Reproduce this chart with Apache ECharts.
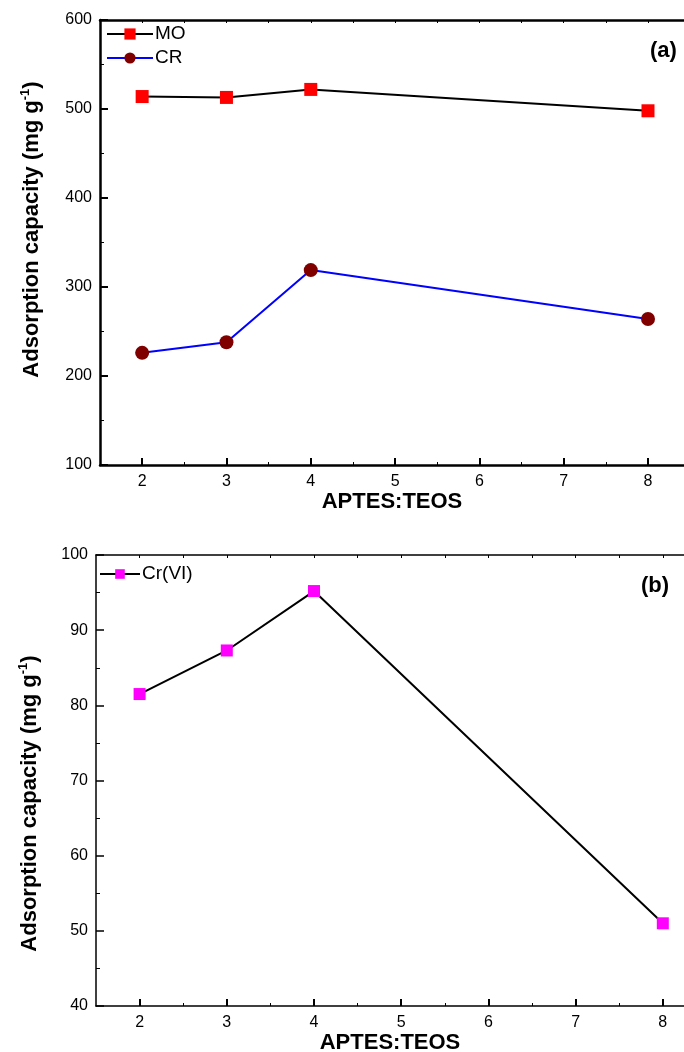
<!DOCTYPE html>
<html>
<head>
<meta charset="utf-8">
<script src="https://cdn.jsdelivr.net/npm/echarts@6/dist/echarts.min.js"></script>
<style>
  html, body { margin: 0; padding: 0; background: #fff; }
  #chart { width: 684px; height: 1052px; }
</style>
</head>
<body>
<div id="chart"></div>
<script>
// APTES:TEOS ratios and measured adsorption capacities (mg g-1)
const ratios = [2, 3, 4, 8];
const moValues = [514, 513, 522, 498];
const crValues = [226, 238, 319, 264];
const cr6Values = [81.5, 87.3, 95.2, 51];

const majorTicks = [2, 3, 4, 5, 6, 7, 8];
const minorTicks = [2.5, 3.5, 4.5, 5.5, 6.5, 7.5];

const FONT = 'Liberation Sans, Arial, sans-serif';
const pair = (xs, ys) => xs.map((x, i) => [x, ys[i]]);

function yName(padding) {
  return {
    name: '{t|Adsorption capacity (mg g}{s|-1}{t|)}',
    nameLocation: 'middle',
    nameRotate: 90,
    nameTextStyle: {
      padding,
      rich: {
        t: { fontFamily: FONT, fontSize: 22, fontWeight: 'bold', color: '#000' },
        s: { fontFamily: FONT, fontSize: 13, fontWeight: 'bold', color: '#000', verticalAlign: 'top', padding: [0, 0, 12, 0] }
      }
    }
  };
}

// bottom axis with labelled major ticks, a second one for the half-step minor ticks,
// and a mirrored top axis that closes the frame
function frameAxes(gridIndex, lw, xMax) {
  const base = {
    type: 'value', gridIndex, min: 1.5, max: xMax, splitLine: { show: false }
  };
  return [
    Object.assign({}, base, {
      position: 'bottom',
      name: 'APTES:TEOS', nameLocation: 'middle', nameGap: 26,
      nameTextStyle: { fontFamily: FONT, fontSize: 22, fontWeight: 'bold', color: '#000' },
      axisLine: { lineStyle: { color: '#000', width: lw } },
      axisTick: { inside: true, length: 7, customValues: majorTicks, lineStyle: { color: '#000', width: 2 } },
      axisLabel: { customValues: majorTicks, color: '#000', fontFamily: FONT, fontSize: 16, margin: 9 }
    }),
    Object.assign({}, base, {
      position: 'bottom',
      axisLine: { show: false },
      axisTick: { inside: true, length: 3, customValues: minorTicks, lineStyle: { color: '#000', width: 1 } },
      axisLabel: { show: false }
    }),
    Object.assign({}, base, {
      position: 'top',
      axisLine: { lineStyle: { color: '#000', width: lw } },
      axisTick: { inside: true, length: 3, customValues: majorTicks.concat(minorTicks), lineStyle: { color: '#000', width: 1 } },
      axisLabel: { show: false }
    })
  ];
}

const chart = echarts.init(document.getElementById('chart'), null, { renderer: 'canvas' });

chart.setOption({
  backgroundColor: '#fff',
  animation: false,
  title: [
    { text: '(a)', left: 645, top: 35, textStyle: { fontFamily: FONT, fontSize: 22, fontWeight: 'bold', color: '#000' } },
    { text: '(b)', left: 636, top: 570, textStyle: { fontFamily: FONT, fontSize: 22, fontWeight: 'bold', color: '#000' } }
  ],
  legend: [
    {
      data: ['MO', 'CR'], orient: 'vertical', left: 101, top: 19, itemGap: 4,
      itemWidth: 46, itemHeight: 14,
      textStyle: { fontFamily: FONT, fontSize: 19, lineHeight: 20, color: '#000', padding: [0, 0, 0, -3] }
    },
    {
      data: ['Cr(VI)'], orient: 'vertical', left: 94, top: 559,
      itemWidth: 40, itemHeight: 12,
      textStyle: { fontFamily: FONT, fontSize: 19, lineHeight: 20, color: '#000', padding: [0, 0, 0, -3] }
    }
  ],
  grid: [
    { left: 100, top: 20, right: 0, height: 445, outerBoundsMode: 'none' },
    { left: 96, top: 555, right: 0, height: 451, outerBoundsMode: 'none' }
  ],
  xAxis: frameAxes(0, 2.5, 8.427).concat(frameAxes(1, 1.5, 8.243)),
  yAxis: [
    Object.assign({}, yName([0, 0, 0, 26]), {
      type: 'value', gridIndex: 0, min: 100, max: 600, interval: 100, nameGap: 56,
      splitLine: { show: false },
      axisLine: { show: true, lineStyle: { color: '#000', width: 2.5 } },
      axisTick: { inside: true, length: 8, lineStyle: { color: '#000', width: 2 } },
      minorTick: { show: true, splitNumber: 2, length: 4, lineStyle: { color: '#000', width: 1 } },
      axisLabel: { color: '#000', fontFamily: FONT, fontSize: 16, margin: 8 }
    }),
    Object.assign({}, yName([0, 46, 0, 0]), {
      type: 'value', gridIndex: 1, min: 40, max: 100, interval: 10, nameGap: 54,
      splitLine: { show: false },
      axisLine: { show: true, lineStyle: { color: '#000', width: 1.5 } },
      axisTick: { inside: true, length: 8, lineStyle: { color: '#000', width: 1.5 } },
      minorTick: { show: true, splitNumber: 2, length: 4, lineStyle: { color: '#000', width: 1 } },
      axisLabel: { color: '#000', fontFamily: FONT, fontSize: 16, margin: 8 }
    })
  ],
  series: [
    {
      name: 'MO', type: 'line', xAxisIndex: 0, yAxisIndex: 0,
      data: pair(ratios, moValues),
      symbol: 'rect', symbolSize: 13,
      lineStyle: { color: '#000', width: 2 },
      itemStyle: { color: '#ff0000' }
    },
    {
      name: 'CR', type: 'line', xAxisIndex: 0, yAxisIndex: 0,
      data: pair(ratios, crValues),
      symbol: 'circle', symbolSize: 14,
      lineStyle: { color: '#0000ff', width: 2 },
      itemStyle: { color: '#800000' }
    },
    {
      name: 'Cr(VI)', type: 'line', xAxisIndex: 3, yAxisIndex: 1,
      data: pair(ratios, cr6Values),
      symbol: 'rect', symbolSize: 12,
      lineStyle: { color: '#000', width: 2 },
      itemStyle: { color: '#ff00ff' }
    }
  ]
});
</script>
</body>
</html>
